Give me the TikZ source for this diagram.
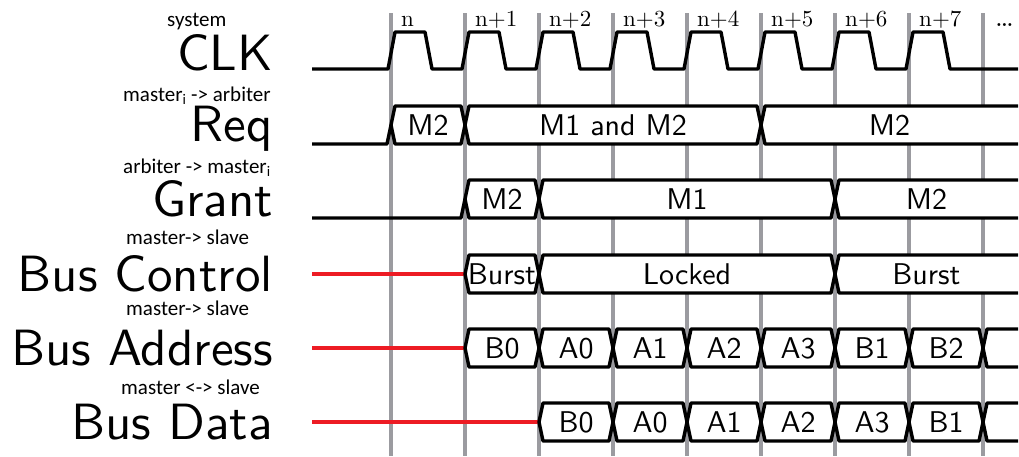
\documentclass[tikz,border=0pt]{standalone}
\usepackage{fontspec}
\newfontfamily\carlito{Carlito}
\newfontfamily\lmsten[Extension=.otf]{lmsans10-regular}
\newfontfamily\lmrten[Extension=.otf]{lmroman10-regular}
\definecolor{gridgrey}{RGB}{155,155,160}
\definecolor{sigred}{RGB}{237,28,36}
\tikzset{
  gridline/.style={draw=gridgrey, line width=3.2pt},
  sig/.style={draw=black, line width=3.4pt, line join=round},
  redsig/.style={draw=sigred, line width=3.4pt},
  biglabel/.style={font=\lmsten\fontsize{51}{51}\selectfont, inner sep=0pt, anchor=base east},
  smalllabel/.style={font=\carlito\fontsize{21}{21}\selectfont, inner sep=0pt, anchor=base west},
  clklabel/.style={font=\lmrten\fontsize{23}{23}\selectfont, inner sep=0pt, anchor=base west},
  boxtext/.style={font=\lmsten\fontsize{30}{30}\selectfont, inner sep=0pt},
}
\newcommand\busbox[6]{%
  \filldraw[sig, fill=white] ({#1+4},#3) -- ({#2-4},#3) -- (#2,{(#3+#4)/2}) -- ({#2-4},#4) -- ({#1+4},#4) -- (#1,{(#3+#4)/2}) -- cycle;
  \node[boxtext] (#5) at ({(#1+#2)/2},{(#3+#4)/2}) {#6};
}
\newcommand\busopen[5]{%
  \fill[white] (#1,{(#2+#3)/2}) -- ({#1+4},#2) -- (1018,#2) -- (1018,#3) -- ({#1+4},#3) -- cycle;
  \draw[sig] (1018,#2) -- ({#1+4},#2) -- (#1,{(#2+#3)/2}) -- ({#1+4},#3) -- (1018,#3);
  \node[boxtext] (#4) at ({(#1+1018)/2},{(#2+#3)/2}) {#5};
}
\begin{document}
\begin{tikzpicture}[x=1pt,y=-1pt]
\useasboundingbox (0,0) rectangle (1019,456);
% grid lines
\foreach \k in {0,...,8} \draw[gridline] ({391+74*\k},13) -- ({391+74*\k},456);
% clock labels
\foreach \k/\lab in {0/n,1/n+1,2/n+2,3/n+3,4/n+4,5/n+5,6/n+6,7/n+7}
  \node[clklabel] (c\k) at ({391+74*\k+10},26) {\lab};
\node[clklabel, font=\lmrten\fontsize{28}{28}\selectfont] (cdots) at (995,26) {\textellipsis};
% left labels
\node[smalllabel] (s1) at (167,26) {system};
\node[biglabel] (l1) at (273,70) {CLK};
\node[smalllabel] (s2) at (123,101) {master\textsubscript{i} -> arbiter};
\node[biglabel] (l2) at (273,141) {Req};
\node[smalllabel] (s3) at (123,173) {arbiter -> master\textsubscript{i}};
\node[biglabel] (l3) at (273,216) {Grant};
\node[smalllabel] (s4) at (126,244) {master-> slave};
\node[biglabel] (l4) at (273,291) {Bus Control};
\node[smalllabel] (s5) at (126,315) {master-> slave};
\node[biglabel] (l5) at (273,365) {Bus Address};
\node[smalllabel] (s6) at (121,394) {master <-> slave};
\node[biglabel] (l6) at (273,439) {Bus Data};
% clock
\draw[sig] (312,69) \foreach \k in {0,...,7}{ -- ({391+74*\k-3},69) -- ({391+74*\k+4},32) -- ({391+74*\k+34},32) -- ({391+74*\k+41},69) } -- (1018,69);
% Req
\draw[sig] (312,144) -- (387,144) -- (391,125);
\busbox{391}{465}{106}{144}{r1}{M2}
\busbox{465}{761}{106}{144}{r2}{M1 and M2}
\busopen{761}{106}{144}{r3}{M2}
% Grant
\draw[sig] (312,218) -- (461,218) -- (465,199);
\busbox{465}{539}{180}{218}{g1}{M2}
\busbox{539}{835}{180}{218}{g2}{M1}
\busopen{835}{180}{218}{g3}{M2}
% Bus Control
\draw[redsig] (312,274) -- (465,274);
\busbox{465}{539}{255}{293}{bc1}{Burst}
\busbox{539}{835}{255}{293}{bc2}{Locked}
\busopen{835}{255}{293}{bc3}{Burst}
% Bus Address
\draw[redsig] (312,348) -- (465,348);
\busbox{465}{539}{329}{367}{ba1}{B0}
\busbox{539}{613}{329}{367}{ba2}{A0}
\busbox{613}{687}{329}{367}{ba3}{A1}
\busbox{687}{761}{329}{367}{ba4}{A2}
\busbox{761}{835}{329}{367}{ba5}{A3}
\busbox{835}{909}{329}{367}{ba6}{B1}
\busbox{909}{983}{329}{367}{ba7}{B2}
\busopen{983}{329}{367}{ba8}{}
% Bus Data
\draw[redsig] (312,422) -- (539,422);
\busbox{539}{613}{403}{441}{bd1}{B0}
\busbox{613}{687}{403}{441}{bd2}{A0}
\busbox{687}{761}{403}{441}{bd3}{A1}
\busbox{761}{835}{403}{441}{bd4}{A2}
\busbox{835}{909}{403}{441}{bd5}{A3}
\busbox{909}{983}{403}{441}{bd6}{B1}
\busopen{983}{403}{441}{bd7}{}
\end{tikzpicture}
\end{document}
